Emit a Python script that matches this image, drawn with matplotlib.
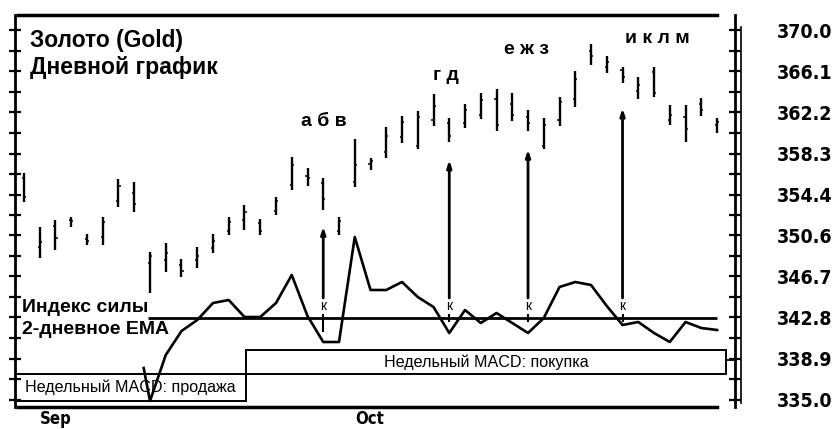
import numpy as np
import matplotlib
matplotlib.use('Agg')
import matplotlib.pyplot as plt
from matplotlib.patches import Rectangle

plt.rcParams['font.family'] = ['Liberation Sans', 'DejaVu Sans']

# daily gold bars (Sep - Oct)
high = [356.5, 351.4, 352.0, 352.3, 350.7, 352.3, 355.9, 355.6, 349.0, 349.8,
        348.3, 349.5, 350.7, 352.3, 353.4, 352.1, 354.2, 358.0, 356.9, 356.0,
        352.3, 359.7, 357.9, 360.8, 361.9, 362.3, 363.9, 361.7, 363.0, 364.0,
        364.4, 364.0, 362.4, 361.7, 363.7, 366.1, 368.7, 367.5, 366.5, 365.6,
        366.5, 362.9, 362.9, 363.6, 361.7]
low = [353.7, 348.4, 349.2, 351.4, 349.7, 349.7, 353.3, 352.8, 345.1, 347.1,
       346.6, 347.5, 348.9, 350.6, 351.1, 350.6, 352.5, 354.9, 355.2, 353.0,
       350.6, 355.1, 356.8, 357.9, 359.3, 358.7, 360.9, 359.4, 360.7, 361.6,
       360.4, 361.4, 360.4, 358.7, 360.9, 362.7, 366.7, 365.9, 365.0, 363.5,
       363.7, 361.0, 359.4, 361.9, 360.3]
opens = [356.0, 349.5, 351.5, 352.0, 350.2, 350.4, 353.8, 354.6, 348.0, 348.2,
         347.8, 348.2, 349.4, 351.0, 352.0, 351.7, 352.9, 355.3, 356.2, 355.5,
         351.0, 355.6, 357.3, 358.5, 359.9, 359.0, 361.5, 361.2, 361.2, 362.0,
         363.5, 363.0, 361.8, 359.0, 361.5, 363.5, 368.0, 366.5, 366.2, 364.2,
         366.0, 361.5, 361.8, 363.0, 361.0]
closes = [354.2, 349.9, 350.3, 351.9, 350.0, 351.8, 355.2, 353.5, 348.6, 348.9,
          347.2, 348.6, 350.0, 351.8, 352.8, 351.0, 353.8, 357.2, 356.0, 354.0,
          351.9, 357.2, 357.6, 360.0, 361.3, 361.8, 362.8, 360.0, 362.4, 363.4,
          361.0, 362.0, 361.2, 361.0, 363.2, 365.4, 367.5, 367.0, 365.6, 364.8,
          364.0, 362.0, 360.6, 362.4, 361.3]
days = np.arange(len(high))

# force index, 2-day EMA
fi_days = [7.6, 8, 9, 10, 11, 12, 13, 14, 15, 16, 17, 18, 19, 20, 21, 22, 23,
           24, 25, 26, 27, 28, 29, 30, 31, 32, 33, 34, 35, 36, 37, 38, 39, 40,
           41, 42, 43, 44]
fi_ema = [-5.0, -8.3, -3.7, -1.3, -0.2, 1.5, 1.8, 0.1, 0.1, 1.5, 4.3, 0.2,
          -2.4, -2.4, 8.1, 2.8, 2.8, 3.6, 2.1, 1.1, -1.5, 0.8, -0.5, 0.5,
          -0.5, -1.5, 0.0, 3.1, 3.6, 3.3, 1.2, -0.7, -0.4, -1.5, -2.4, -0.4,
          -1.0, -1.2]

# buy signals: bar index and arrow tip price
signal_days = [19, 27, 32, 38]
signal_tips = [351.4, 357.7, 358.7, 362.6]
letter_groups = ['а б в', 'г д', 'е ж з', 'и к л м']

# weekly MACD state
macd_labels = ['Недельный MACD: продажа', 'Недельный MACD: покупка']
macd_start = [-0.57, 14.1]
macd_end = [14.1, 44.6]

price_ticks = [335.0, 338.9, 342.8, 346.7, 350.6, 354.4, 358.3, 362.2, 366.1, 370.0]
month_days = [1, 21]
month_names = ['Sep', 'Oct']

fig = plt.figure(figsize=(8.4, 4.29), dpi=100)
rect = [15 / 840, 22 / 429, 720 / 840, 392 / 429]
ax = fig.add_axes(rect)
ax.set_xlim(-0.57, 45.14)
ax.set_ylim(334.33, 371.42)

# price bars
ax.vlines(days, low, high, color='black', lw=1.7)
ax.hlines(opens, days - 0.13, days, color='black', lw=1.1)
ax.hlines(closes, days, days + 0.13, color='black', lw=1.1)

# frame
for s in ['top', 'bottom']:
    ax.spines[s].set_visible(False)
ax.spines['left'].set_linewidth(2)
ax.spines['right'].set_linewidth(2)
ax.plot([0.004, 0.975], [1, 1], transform=ax.transAxes, color='black', lw=2.5, clip_on=False)
ax.plot([0.004, 0.975], [0, 0], transform=ax.transAxes, color='black', lw=2.5, clip_on=False)
ax.plot([1.009, 1.009], [0.01, 0.97], transform=ax.transAxes, color='black', lw=1.2, clip_on=False)

minor = [(a + b) / 2 for a, b in zip(price_ticks[:-1], price_ticks[1:])]
ax.set_yticks(price_ticks)
ax.set_yticks(minor, minor=True)
ax.set_yticklabels(['%.1f' % t for t in price_ticks])
ax.tick_params(axis='y', which='both', left=True, right=True, labelleft=False,
               labelright=True, direction='inout', length=8, width=1.6, pad=26)
for lbl in ax.get_yticklabels():
    lbl.set_fontfamily(['DejaVu Sans'])
    lbl.set_fontweight('bold')
    lbl.set_fontstretch('condensed')
    lbl.set_fontsize(14)

ax.set_xticks(month_days)
ax.set_xticklabels(month_names)
ax.tick_params(axis='x', length=0, pad=2)
for lbl in ax.get_xticklabels():
    lbl.set_fontfamily(['DejaVu Sans'])
    lbl.set_fontweight('bold')
    lbl.set_fontstretch('condensed')
    lbl.set_fontsize(12)
    lbl.set_horizontalalignment('left')

ax.text(0.021, 0.936, 'Золото (Gold)', transform=ax.transAxes, fontsize=16.4,
        fontweight='bold', va='center')
ax.text(0.021, 0.865, 'Дневной график', transform=ax.transAxes, fontsize=16.6,
        fontweight='bold', va='center')

letter_spots = [(19.05, 361.3), (26.8, 365.7), (31.9, 368.2), (40.2, 369.2)]
for txt, (lx, ly) in zip(letter_groups, letter_spots):
    ax.text(lx, ly, txt, ha='center', va='center', fontsize=14, fontweight='bold')

# force index panel on its own scale
fx = fig.add_axes(rect, sharex=ax)
fx.set_ylim(-8.9, 30.3)
fx.axis('off')

for lab, x0, x1, y0, y1 in zip(macd_labels, macd_start, macd_end, [-8.3, -5.6], [-5.6, -3.2]):
    fx.add_patch(Rectangle((x0, y0), x1 - x0, y1 - y0, fill=False, lw=1.4, ec='black'))
    fx.text((x0 + x1) / 2, (y0 + y1) / 2, lab, ha='center', va='center', fontsize=11.6)
fx.plot([44.6, 45.14], [-4.2, -4.2], color='black', lw=1.3, clip_on=False)

fx.hlines(0, 7.9, 44.0, color='black', lw=2)
fx.plot(fi_days, fi_ema, color='black', lw=1.9)

fx.text(-0.13, 1.0, 'Индекс силы', fontsize=14, fontweight='bold', va='center')
fx.text(-0.13, -1.2, '2-дневное EMA', fontsize=14, fontweight='bold', va='center')

stem_bottoms = [-1.4, -0.4, -0.4, -0.4]
for d, tip, sb in zip(signal_days, signal_tips, stem_bottoms):
    fx.annotate('', xy=(d, tip), xycoords=ax.transData, xytext=(d, 2.0),
                textcoords='data',
                arrowprops=dict(arrowstyle='-|>,head_length=0.4,head_width=0.13',
                                lw=2, color='black', shrinkA=0, shrinkB=0))
    fx.text(d, 1.2, 'к', ha='center', va='center', fontsize=10)
    fx.vlines(d, sb, 0.4, color='black', lw=1.5)

fig.savefig('out.png', dpi=100)
